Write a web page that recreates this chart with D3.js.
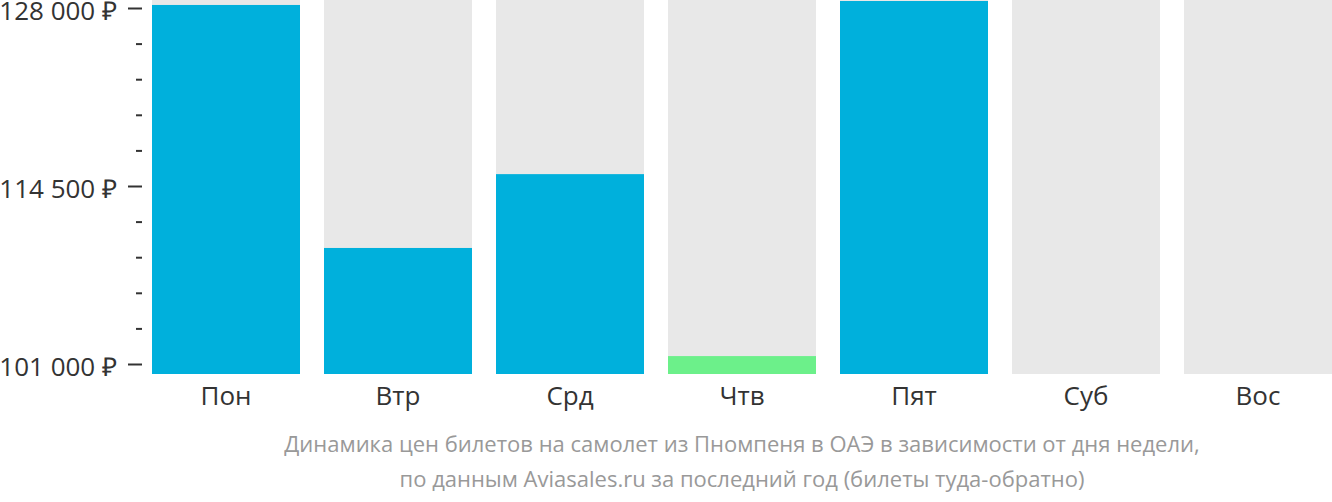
<!DOCTYPE html>
<html><head><meta charset="utf-8">
<script src="https://cdn.jsdelivr.net/npm/d3@7"></script>
<style>body{margin:0;background:#fff;} svg{display:block;font-family:"Open Sans",sans-serif;}</style>
</head><body>
<svg id="c" width="1332" height="502"></svg>
<script>
const days = ["Пон","Втр","Срд","Чтв","Пят","Суб","Вос"];
const prices = [128230, 109800, 115400, 101600, 128530, null, null];
const barColors = ["#00b0dc","#00b0dc","#00b0dc","#6cf08a","#00b0dc",null,null];
const majorTicks = [101000, 114500, 128000];
const majorLabels = ["101 000 ₽","114 500 ₽","128 000 ₽"];
const minorTicks = [103700,106400,109100,111800,117200,119900,122600,125300];
const caption = ["Динамика цен билетов на самолет из Пномпеня в ОАЭ в зависимости от дня недели,",
                 "по данным Aviasales.ru за последний год (билеты туда-обратно)"];

const svg = d3.select("#c");
const x = d3.scaleBand().domain(days).range([152, 1332]).paddingInner(24/172).paddingOuter(0);
const y = d3.scaleLinear().domain([101000, 128000]).range([364, 8]);
const yBottom = 374, yTop = 0;

svg.append("g").selectAll("rect").data(days).join("rect")
  .attr("x", d => x(d)).attr("width", x.bandwidth())
  .attr("y", yTop).attr("height", yBottom - yTop).attr("fill", "#e8e8e8");

svg.append("g").selectAll("rect").data(days.map((d,i)=>({d, v:prices[i], c:barColors[i]})).filter(o=>o.v!=null)).join("rect")
  .attr("x", o => x(o.d)).attr("width", x.bandwidth())
  .attr("y", o => y(o.v)).attr("height", o => yBottom - y(o.v)).attr("fill", o => o.c);

const axMajor = d3.axisLeft(y).tickValues(majorTicks).tickSize(14).tickPadding(11)
  .tickFormat((d,i) => majorLabels[i]);
const gMaj = svg.append("g").attr("transform","translate(142,0)").call(axMajor);
gMaj.select(".domain").remove();
gMaj.selectAll("line").attr("stroke","#333").attr("stroke-width",2);
gMaj.selectAll("text").attr("fill","#333").attr("dy","0.43em").style("font-size","26px").style("font-family","'Open Sans',sans-serif");

const axMinor = d3.axisLeft(y).tickValues(minorTicks).tickSize(6).tickFormat("");
const gMin = svg.append("g").attr("transform","translate(142,0)").call(axMinor);
gMin.select(".domain").remove();
gMin.selectAll("line").attr("stroke","#333").attr("stroke-width",2);

const axX = d3.axisBottom(x).tickSize(0).tickPadding(13);
const gX = svg.append("g").attr("transform",`translate(0,${yBottom})`).call(axX);
gX.select(".domain").remove();
gX.selectAll("text").attr("fill","#333").style("font-size","26px").style("font-family","'Open Sans',sans-serif");

svg.append("g").selectAll("text").data(caption).join("text")
  .attr("x", 742).attr("y", (d,i) => 452 + i*35)
  .attr("text-anchor","middle").attr("fill","#999")
  .style("font-size","22px").text(d => d);
</script>
</body></html>
